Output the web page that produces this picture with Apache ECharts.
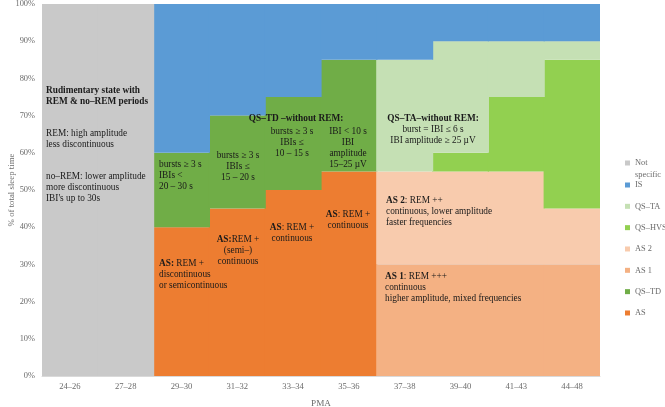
<!DOCTYPE html>
<html>
<head>
<meta charset="utf-8">
<script src="https://cdn.jsdelivr.net/npm/echarts@6/dist/echarts.min.js"></script>
<style>
html,body{margin:0;padding:0;background:#fff;}
#c{width:665px;height:407px;}
</style>
</head>
<body>
<div id="c"></div>
<script>
const categories = ['24–26','27–28','29–30','31–32','33–34','35–36','37–38','39–40','41–43','44–48'];
const AS        = [0, 0, 40, 45, 50, 55, 0, 0, 0, 0];
const QS_TD     = [0, 0, 20, 25, 25, 30, 0, 0, 0, 0];
const AS1       = [0, 0, 0, 0, 0, 0, 30, 30, 30, 30];
const AS2       = [0, 0, 0, 0, 0, 0, 25, 25, 25, 15];
const QS_HVS    = [0, 0, 0, 0, 0, 0, 0, 5, 20, 40];
const QS_TA     = [0, 0, 0, 0, 0, 0, 30, 30, 15, 5];
const IS        = [0, 0, 40, 30, 25, 15, 15, 10, 10, 10];
const NOT_SPEC  = [100, 100, 0, 0, 0, 0, 0, 0, 0, 0];
const yTicks = ['0%','10%','20%','30%','40%','50%','60%','70%','80%','90%','100%'];

const seriesDefs = [
  ['AS', AS, '#ED7D31'],
  ['QS–TD', QS_TD, '#70AD47'],
  ['AS 1', AS1, '#F4B183'],
  ['AS 2', AS2, '#F8CBAD'],
  ['QS–HVS', QS_HVS, '#92D050'],
  ['QS–TA', QS_TA, '#C5E0B4'],
  ['IS', IS, '#5B9BD5'],
  ['Not specific', NOT_SPEC, '#C9C9C9']
];

const SERIF = '"Liberation Serif", "Times New Roman", serif';
const TXT = '#1a1a1a';
const GREY = '#6b6b6b';
const FS = 9.3;

function block(x, y, lines, align) {
  return {
    type: 'text', x: x, y: y, z: 100,
    style: {
      text: lines.join('\n'),
      fontFamily: SERIF, fontSize: FS,
      fill: TXT,
      textAlign: align || 'left',
      align: align || 'left',
      verticalAlign: 'top',
      lineHeight: 11,
      rich: {
        b: {fontWeight: 'bold', fontFamily: SERIF, fontSize: FS, fill: TXT, color: TXT, lineHeight: 11},
        n: {fontFamily: SERIF, fontSize: FS, fill: TXT, color: TXT, lineHeight: 11}
      }
    }
  };
}

const chart = echarts.init(document.getElementById('c'), null, {renderer: 'canvas'});
chart.setOption({
  animation: false,
  backgroundColor: '#fff',
  textStyle: {fontFamily: SERIF},
  grid: {left: 42, right: 65, top: 4, bottom: 31, containLabel: false, outerBoundsMode: 'none'},
  xAxis: {
    type: 'category',
    data: categories,
    name: 'PMA',
    nameLocation: 'middle',
    nameGap: 23,
    nameMoveOverlap: false,
    nameTextStyle: {fontFamily: SERIF, fontSize: 9.2, color: GREY},
    axisLine: {lineStyle: {color: '#d9d9d9'}},
    axisTick: {show: false},
    splitLine: {show: false},
    axisLabel: {fontFamily: SERIF, fontSize: 8.6, color: GREY, margin: 6}
  },
  yAxis: {
    type: 'value',
    min: 0, max: 100, interval: 10,
    name: '% of total sleep time',
    nameLocation: 'middle',
    nameGap: 26,
    nameMoveOverlap: false,
    nameTextStyle: {fontFamily: SERIF, fontSize: 8.8, color: GREY},
    axisLine: {show: false},
    axisTick: {show: false},
    splitLine: {show: true, lineStyle: {color: '#d9d9d9'}},
    axisLabel: {fontFamily: SERIF, fontSize: 8.4, color: GREY, margin: 7,
      formatter: function (v) { return yTicks[Math.round(v / 10)]; }}
  },
  legend: [
    {
      data: ['Not specific'],
      orient: 'vertical',
      left: 625, top: 145, padding: 0,
      itemWidth: 5, itemHeight: 5, itemGap: 9,
      icon: 'rect',
      formatter: function () { return ' \nNot\nspecific'; },
      textStyle: {fontFamily: SERIF, fontSize: 8.4, color: GREY, lineHeight: 12}
    },
    {
      data: ['IS', 'QS–TA', 'QS–HVS', 'AS 2', 'AS 1', 'QS–TD', 'AS'],
      orient: 'vertical',
      left: 625, top: 179, padding: 0,
      itemWidth: 5, itemHeight: 5, itemGap: 9.33,
      icon: 'rect',
      textStyle: {fontFamily: SERIF, fontSize: 8.4, color: GREY, lineHeight: 12}
    }
  ],
  series: seriesDefs.map(function (d) {
    return {
      name: d[0], type: 'bar', stack: 'total',
      data: d[1].map(function (v) { return v === 0 ? null : v; }),
      barWidth: 57,
      itemStyle: {color: d[2]},
      emphasis: {disabled: true}
    };
  }),
  graphic: [
    block(46, 85, ['{b|Rudimentary state with}', '{b|REM & no–REM periods}']),
    block(46, 128, ['{n|REM: high amplitude}', '{n|less discontinuous}']),
    block(46, 171, ['{n|no–REM: lower amplitude}', '{n|more discontinuous}', '{n|IBI\'s up to 30s}']),

    block(159, 159, ['{n|bursts ≥ 3 s}', '{n|IBIs <}', '{n|20 – 30 s}']),
    block(238, 150, ['{n|bursts ≥ 3 s}', '{n|IBIs ≤}', '{n|15 – 20 s}'], 'center'),
    block(296, 113, ['{b|QS–TD –without REM:}'], 'center'),
    block(292, 126, ['{n|bursts ≥ 3 s}', '{n|IBIs ≤}', '{n|10 – 15 s}'], 'center'),
    block(348, 126, ['{n|IBI < 10 s}', '{n|IBI}', '{n|amplitude}', '{n|15–25 µV}'], 'center'),

    block(159, 258, ['{b|AS:}{n| REM +}', '{n|discontinuous}', '{n|or semicontinuous}']),
    block(238, 234, ['{b|AS:}{n|REM +}', '{n|(semi–)}', '{n|continuous}'], 'center'),
    block(292, 222, ['{b|AS}{n|: REM +}', '{n|continuous}'], 'center'),
    block(348, 209, ['{b|AS}{n|: REM +}', '{n|continuous}'], 'center'),

    block(433, 113, ['{b|QS–TA–without REM:}', '{n|burst = IBI ≤ 6 s}', '{n|IBI amplitude ≥ 25 µV}'], 'center'),
    block(386, 195, ['{b|AS 2}{n|: REM ++}', '{n|continuous, lower amplitude}', '{n|faster frequencies}']),
    block(385, 271, ['{b|AS 1}{n|: REM +++}', '{n|continuous}', '{n|higher amplitude, mixed frequencies}'])
  ]
});
</script>
</body>
</html>
